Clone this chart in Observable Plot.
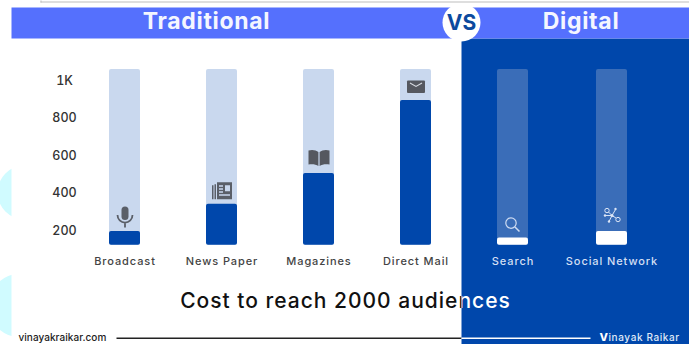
<!DOCTYPE html>
<html>
<head>
<meta charset="utf-8">
<script src="https://cdn.jsdelivr.net/npm/d3@7"></script>
<script src="https://cdn.jsdelivr.net/npm/@observablehq/plot@0.6"></script>
<style>
  html, body { margin: 0; padding: 0; background: #fff; }
  svg { display: block; }
  .spaced text { letter-spacing: 0.9px; }
  .title-dark text, .title-light text { letter-spacing: 1px; }
  .heading text { letter-spacing: 0.7px; }
  .footer-site text { letter-spacing: 0.05px; }
  .footer-name text { letter-spacing: 0.6px; }
</style>
</head>
<body>
<div id="chart"></div>
<script>
// Cost per channel, in the units of the vertical axis
const traditionalChannels = ["Broadcast", "News Paper", "Magazines", "Direct Mail"];
const traditionalCost = [195, 340, 505, 895];
const digitalChannels = ["Search", "Social Network"];
const digitalCost = [160, 195];
const costTicks = [200, 400, 600, 800, 1000];
const costFloor = 122;
const costCeiling = 1060;

const W = 689, H = 344;
const BLUE = "#0047ab", HEADER = "#5570fd";

const glyph = (body) => "data:image/svg+xml," + encodeURIComponent(
  `<svg xmlns="http://www.w3.org/2000/svg" viewBox="0 0 24 24" width="24" height="24">${body}</svg>`);

const traditionalIcons = [
  // microphone
  glyph(`<rect x="8.500" y="1" width="7" height="13.500" rx="3.500" fill="#5a5f68"/><path d="M4.500 9.500a7.500 7.500 0 0 0 15 0M12 17v5" fill="none" stroke="#5a5f68" stroke-width="1.800"/>`),
  // newspaper
  glyph(`<path d="M7 4h15v17H7zM2 7h1.500v14H2zM4.500 6H6v15H4.500z" fill="#5a5f68"/><path d="M9 7h4v1.400H9zM9 10h4v1.400H9zM9 13h4v1.400H9zM9 16h11v1.400H9zM15 7h5v6h-5z" fill="#c9d8ee"/>`),
  // open book
  glyph(`<path d="M1.500 3C5 2 9 2.500 11.400 4.500v14C9 16.900 5 16.300 1.500 17.100zM22.500 3C19 2 15 2.500 12.600 4.500v14C15 16.900 19 16.300 22.500 17.100z" fill="#55585f"/>`),
  // envelope
  glyph(`<rect x="3" y="6" width="18" height="12.500" rx="1" fill="#55585f"/><path d="M6 8.500l6 3.500 6-3.500" fill="none" stroke="#d8dce2" stroke-width="1.100"/>`)
];
const digitalIcons = [
  // magnifying glass
  glyph(`<circle cx="10" cy="11" r="5.200" fill="none" stroke="#cfdcf2" stroke-width="1.200"/><path d="M14 15l4.500 4.500" stroke="#cfdcf2" stroke-width="1.500"/>`),
  // network of nodes
  glyph(`<g fill="none" stroke="#dbe5f6" stroke-width="1"><circle cx="7" cy="5" r="2.200"/><circle cx="18" cy="14" r="2.200"/><path d="M8.500 6.500L12 10l3.500-6M12 10l4 2.500M12 10l-3 6M5 10h7"/></g><g fill="#dbe5f6"><circle cx="15.500" cy="3.500" r="1.200"/><circle cx="5" cy="10" r="1.200"/><circle cx="9" cy="16" r="1.200"/><circle cx="12" cy="10" r="1.500"/></g>`)
];

const traditional = traditionalChannels.map((name, i) => ({name, cost: traditionalCost[i], icon: traditionalIcons[i]}));
const digital = digitalChannels.map((name, i) => ({name, cost: digitalCost[i], icon: digitalIcons[i]}));

// A filled block of the page layout, given by its edges
const block = (left, top, right, bottom, fill) =>
  Plot.frame({fill, stroke: "none", insetLeft: left, insetTop: top, insetRight: W - right, insetBottom: H - bottom});

// A label placed on the page rather than on a scale
const note = (label, dx, dy, options) =>
  Plot.text([label], {text: (d) => d, frameAnchor: "top-left", dx, dy, lineAnchor: "middle", ...options});

const blob = (dx, dy, r) => Plot.dot([0], {frameAnchor: "top-left", dx, dy, r, fill: "#d0fbff", stroke: "none"});

const titleText = "Cost to reach 2000 audiences";
const titleStyle = {textAnchor: "middle", fontSize: 21, fontWeight: 500};
const titleX = 345, titleY = 301;
const font = "Inter, 'Open Sans', sans-serif";

// Track, filled bar, icon and name of a group of channels
const channelMarks = (rows, trackFill, barFill, nameFill, dx = 0) => [
  Plot.barY(rows, {x: "name", y1: () => costFloor, y2: () => costCeiling, fill: trackFill, rx: 2, dx}),
  Plot.barY(rows, {x: "name", y1: () => costFloor, y2: "cost", fill: barFill, rx: 2, dx}),
  Plot.image(rows, {x: "name", y: "cost", src: "icon", width: 24, height: 24, dy: -14, dx}),
  Plot.text(rows, {x: "name", text: "name", frameAnchor: "top", dy: 261, dx, lineAnchor: "middle", fontSize: 11, fontWeight: 500, fill: nameFill, className: "spaced"})
];

const chart = Plot.plot({
  width: W,
  height: H,
  margin: 0,
  style: {fontFamily: font, background: "#fff", overflow: "hidden"},
  x: {type: "band", domain: [...traditionalChannels, ...digitalChannels], range: [76, 658], paddingInner: 0.68, paddingOuter: 0.34, axis: null},
  y: {domain: [costFloor, costCeiling], range: [244.7, 69], axis: null},
  marks: [
    // page decoration
    blob(24, 192, 27),
    blob(20, 305, 32),
    block(11, 0, W, H, "#fff"),
    block(40, 1, W, 2, "#bdbdbd"),
    block(40, 0, 41, 2, "#bdbdbd"),
    note(titleText, titleX, titleY, {...titleStyle, fill: "#111", className: "title-dark"}),
    block(461, 38, W, H, BLUE),
    block(11, 7, W, 38, HEADER),
    note("Traditional", 206, 21, {textAnchor: "middle", fontSize: 23, fontWeight: 700, fill: "#f4f6ff", className: "heading"}),
    note("Digital", 580.500, 21, {textAnchor: "middle", fontSize: 23, fontWeight: 700, fill: "#f4f6ff", className: "heading"}),
    Plot.dot([0], {frameAnchor: "top-left", dx: 461, dy: 22, r: 19, fill: "#fff", stroke: "none"}),
    note("VS", 461, 22.500, {textAnchor: "middle", fontSize: 21, fontWeight: 700, fill: "#0c4a9e"}),

    // cost axis
    Plot.axisY(costTicks, {anchor: "left", tickSize: 0, tickPadding: 0, dx: 64, textAnchor: "middle", label: null,
      tickFormat: (d) => d === 1000 ? "1K" : String(d), fontSize: 12.500, fontWeight: 500, fill: "#333"}),

    // channel bars
    ...channelMarks(traditional, "#c9d8ee", BLUE, "#444"),
    ...channelMarks(digital.slice(0, 1), "#3a6db8", "#fff", "#d3dff3"),
    ...channelMarks(digital.slice(1), "#3a6db8", "#fff", "#d3dff3", 2),

    // title, white over the dark panel
    note(titleText, titleX, titleY, {...titleStyle, fill: "#fff", className: "title-light"}),

    // footer
    note("vinayakraikar.com", 18, 337, {fontSize: 10, fontWeight: 500, fill: "#222", className: "footer-site"}),
    block(116, 337, 461, 338.500, "#222"),
    block(461, 337, 590, 338.500, "#fff"),
    note("V", 599, 337, {fontSize: 11, fontWeight: 800, fill: "#fff"}),
    note("inayak Raikar", 608, 337, {fontSize: 10, fontWeight: 500, fill: "#dfe8f7", className: "footer-name"})
  ]
});

// Confine the white title to the dark panel; the clip sits in the mark's translated coordinates
const svg = d3.select(chart);
svg.append("defs").append("clipPath").attr("id", "panel-clip")
  .append("rect").attr("x", 461 - titleX).attr("y", -titleY).attr("width", W - 461).attr("height", H);
svg.selectAll(".title-light").attr("clip-path", "url(#panel-clip)");

document.getElementById("chart").append(chart);
</script>
</body>
</html>
